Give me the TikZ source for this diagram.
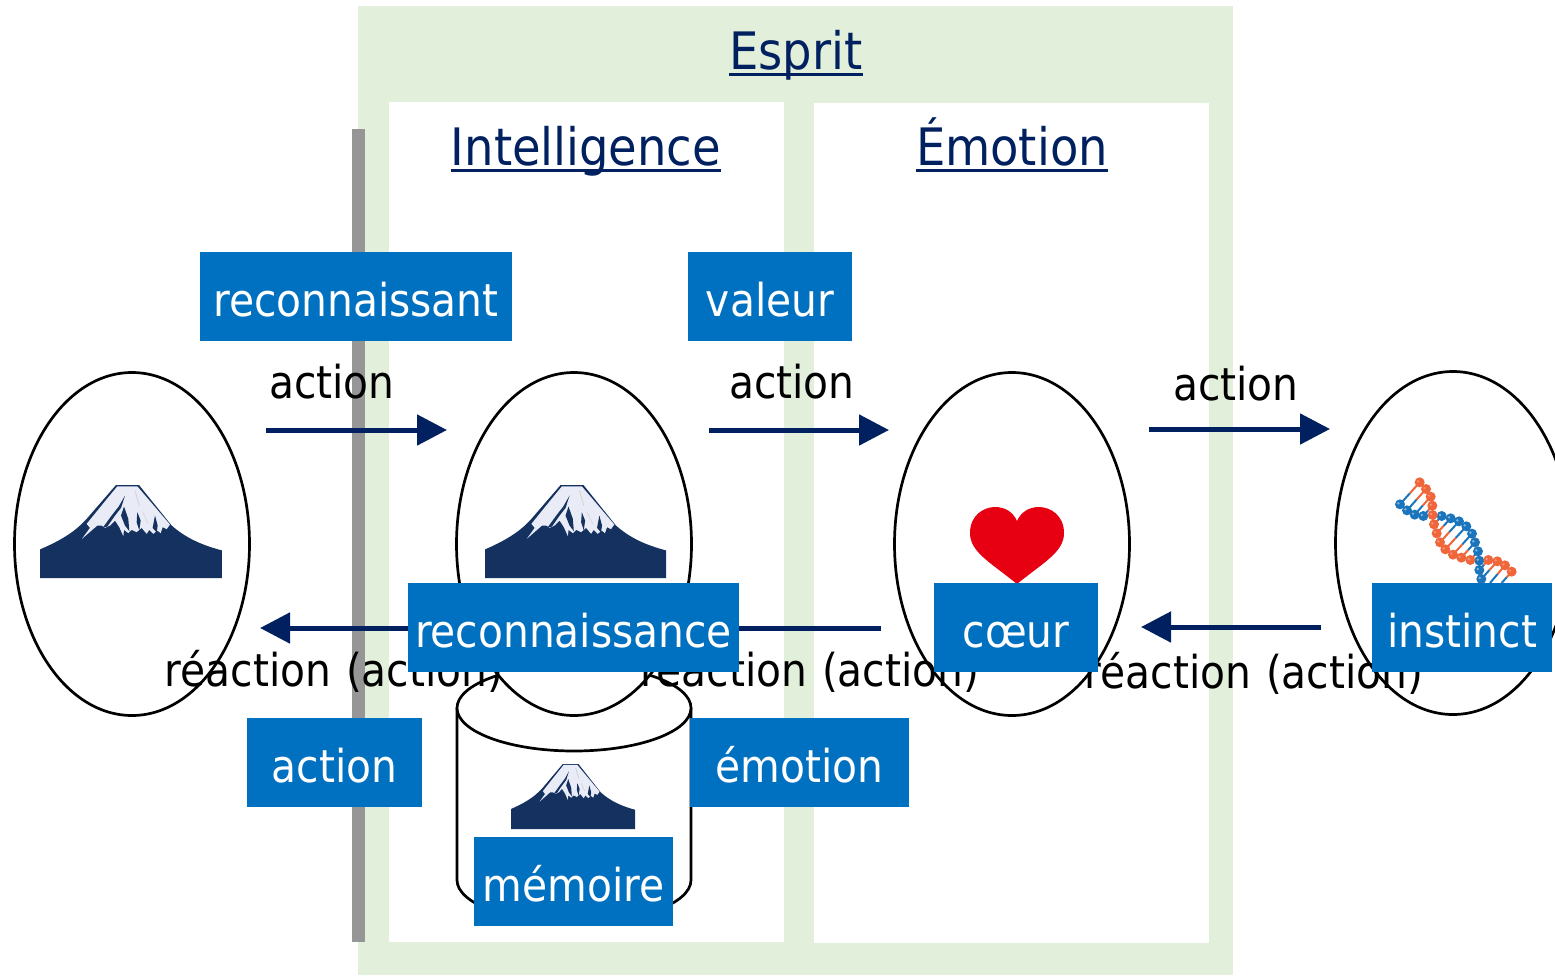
\documentclass[tikz,border=0pt]{standalone}
\usepackage{fontspec}
\setmainfont{DejaVu Sans Condensed}
\usetikzlibrary{arrows.meta,shapes.geometric,calc}
\definecolor{navy}{HTML}{002060}
\definecolor{boxblue}{HTML}{0070C0}
\definecolor{pale}{HTML}{E2EFDA}
\definecolor{barg}{HTML}{969696}
\definecolor{fujid}{HTML}{14315F}
\definecolor{fujis}{HTML}{E9ECF6}
\definecolor{dnao}{HTML}{F0653A}
\definecolor{dnab}{HTML}{1B75BC}
\definecolor{heartr}{HTML}{E60012}
\newcommand{\titul}[1]{\vtop{\hbox{\smash{#1}}\kern4pt\hrule height 2.5pt}}
\newcommand{\reac}{réaction\kern15pt(action)}
\newcommand{\fuji}[4]{%
\begin{scope}[shift={(#1,#2)},xscale=#3,yscale=#4,shift={(-60,-43)}]
\fill[fujid] (60,323) -- (60,237) .. controls (110,215) and (160,190) .. (200,145) -- (288,43) -- (357,43) -- (455,165) .. controls (500,205) and (550,225) .. (606,240) -- (606,323) -- cycle;
\fill[fujis] (292,47) -- (352,47) -- (450,162) -- (440,176) -- (428,170) -- (422,188) -- (412,180) -- (400,190) -- (388,178) -- (380,190) -- (365,172) -- (350,185) -- (335,178) -- (325,188) -- (312,178) -- (310,197) -- (298,170) -- (285,150) -- (270,165) -- (255,172) -- (245,165) -- (232,165) -- (186,205) -- (210,172) -- (200,160) -- (255,92) -- cycle;
\fill[fujid] (315,75) -- (296,108) -- (275,135) -- (248,172) -- (262,168) -- (285,135) -- (303,112) -- cycle;
\fill[fujid] (312,108) -- (303,135) -- (315,165) -- (328,182) -- (325,145) -- cycle;
\fill[fujid] (352,125) -- (350,155) -- (358,180) -- (362,150) -- cycle;
\fill[fujid] (405,135) -- (398,172) -- (410,186) -- (413,165) -- cycle;
\draw[black!18,line width=0.8pt] (345,60) -- (358,105);
\draw[black!15,line width=0.8pt] (368,125) -- (385,160);
\end{scope}}
\tikzset{
  egg/.style={draw=black,fill=white,line width=2.7pt,ellipse,minimum width=235pt,minimum height=343pt,inner sep=0pt},
  flow/.style={draw=navy,line width=5pt,-{Triangle[length=30pt,width=30pt]}},
  tag/.style={fill=boxblue,text=white,font=\fontsize{45.3}{45.3}\selectfont,inner sep=0pt,minimum height=89pt,text height=64pt,text depth=25pt,align=center},
  lab/.style={anchor=base,text=black,font=\fontsize{45.3}{45.3}\selectfont,inner sep=0pt},
  ttl/.style={anchor=base,text=navy,font=\fontsize{51.6}{51.6}\selectfont,inner sep=0pt},
}
\begin{document}
\begin{tikzpicture}[x=1pt,y=-1pt]
\useasboundingbox (0,0) rectangle (1555,975);
% panels
\fill[pale] (358,6) rectangle (1233,975);
\fill[white] (389,102) rectangle (784,942);
\fill[white] (814,103) rectangle (1209,943);
\fill[barg] (352,129) rectangle (365,942);
% titles
\node[ttl] (tEsprit) at (796,69) {\titul{Esprit}};
\node[ttl] (tIntel) at (586,165) {\titul{Intelligence}};
\node[ttl] (tEmo) at (1012,165) {\titul{Émotion}};
% cylinder
\draw[black,fill=white,line width=2.7pt] (457,708) -- (457,880) arc[start angle=180,end angle=0,x radius=117,y radius=43] -- (691,708);
\draw[black,fill=white,line width=2.7pt] (574,708) ellipse[x radius=117,y radius=43];
% ellipses
\node[egg] (e1) at (132,544) {};
\node[egg] (e2) at (574,544) {};
\node[egg] (e3) at (1012,544) {};
\node[egg] (e4) at (1453,543) {};
% pictures
\fuji{40}{485}{0.3333}{0.3321}
\fuji{485}{485}{0.3315}{0.3321}
\fuji{511}{764}{0.2271}{0.2321}
\fill[heartr] (1017,584) .. controls (990,562) and (970,552) .. (970,533) .. controls (970,515) and (984,507) .. (995,507) .. controls (1005,507) and (1013,512) .. (1017,521) .. controls (1021,512) and (1029,507) .. (1039,507) .. controls (1050,507) and (1064,515) .. (1064,533) .. controls (1064,552) and (1044,562) .. (1017,584) -- cycle;
\begin{scope}[shift={(1340,450)},scale=0.3333]
\foreach \ox/\oy/\bx/\by in {239/97/180/163,258/117/201/181,272/140/224/194,277/167/250/198,282/223/305/198,290/250/332/205,300/277/357/214,316/298/379/229,339/314/396/251,364/323/405/277,391/330/414/304,445/330/418/360,472/334/424/387,495/346/450/399,515/365/485/399}{
  \draw[dnao,line width=2pt] (\ox,\oy) -- ($(\ox,\oy)!.5!(\bx,\by)$);
  \draw[dnab,line width=2pt] ($(\ox,\oy)!.5!(\bx,\by)$) -- (\bx,\by);
}
\foreach \x/\y in {180/163,201/181,224/194,250/198,305/198,332/205,357/214,379/229,396/251,405/277,414/304,418/332,418/360,424/387}{
  \fill[dnab] (\x,\y) circle (15);
  \fill[white,opacity=.45] (\x-5,\y-3) circle (4);
}
\foreach \x/\y in {239/97,258/117,272/140,277/167,278/195,282/223,290/250,300/277,316/298,339/314,364/323,391/330,445/330,472/334,495/346,515/365}{
  \fill[dnao] (\x,\y) circle (15);
  \fill[white,opacity=.3] (\x-5,\y-3) circle (4);
}
\end{scope}
% arrows
\coordinate (a1s) at (266,430); \coordinate (a1e) at (447,430);
\coordinate (a2s) at (709,430); \coordinate (a2e) at (889,430);
\coordinate (a3s) at (1149,429); \coordinate (a3e) at (1330,429);
\coordinate (b1s) at (881,628); \coordinate (b1e) at (260,628);
\coordinate (b2s) at (1321,627); \coordinate (b2e) at (1141,627);
\draw[flow] (a1s) -- (a1e);
\draw[flow] (a2s) -- (a2e);
\draw[flow] (a3s) -- (a3e);
\draw[flow] (b1s) -- (b1e);
\draw[flow] (b2s) -- (b2e);
% labels
\node[lab] (l1) at (332,398) {action};
\node[lab] (l2) at (792,398) {action};
\node[lab] (l3) at (1236,400) {action};
\node[lab] (r1) at (334,686) {\reac};
\node[lab] (r2) at (810,686) {\reac};
\node[lab] (r3) at (1254,688) {\reac};
% tags
\node[tag,minimum width=312pt] (reconnaissant) at (356,296.5) {reconnaissant};
\node[tag,minimum width=164pt] (valeur) at (770,296.5) {valeur};
\node[tag,minimum width=331pt] (reconnaissance) at (573.5,627.5) {reconnaissance};
\node[tag,minimum width=164pt] (coeur) at (1016,627.5) {cœur};
\node[tag,minimum width=180pt] (instinct) at (1462,627.5) {instinct};
\node[tag,minimum width=175pt] (action) at (334.5,762.5) {action};
\node[tag,minimum width=219pt] (emotion) at (799.5,762.5) {émotion};
\node[tag,minimum width=199pt] (memoire) at (573.5,881.5) {mémoire};
\end{tikzpicture}
\end{document}
